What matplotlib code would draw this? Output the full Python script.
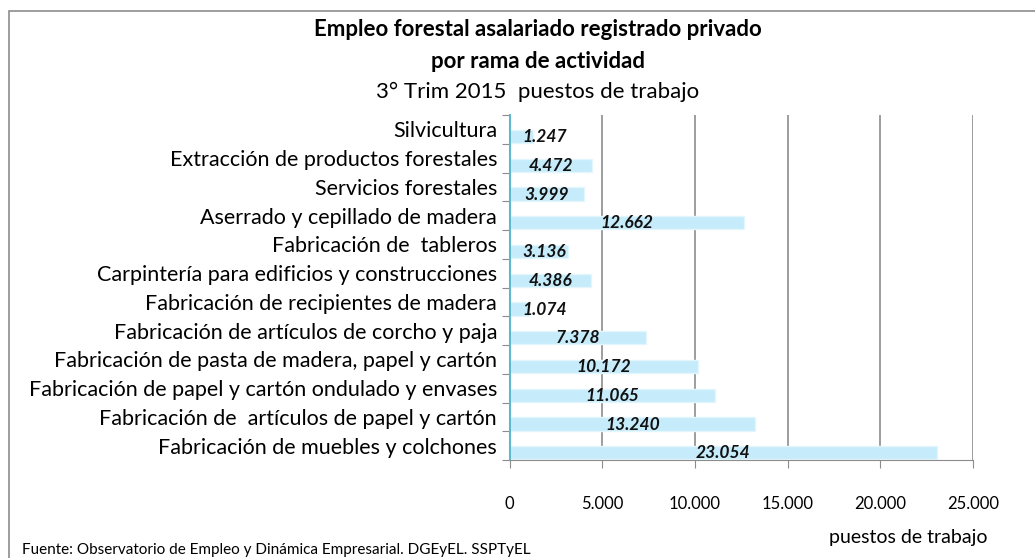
import numpy as np
import matplotlib.pyplot as plt
from matplotlib.patches import Rectangle

plt.rcParams['font.family'] = ['Lato', 'DejaVu Sans']

# data, top to bottom as in the chart
ramas = [
    "Silvicultura",
    "Extracción de productos forestales",
    "Servicios forestales",
    "Aserrado y cepillado de madera",
    "Fabricación de  tableros",
    "Carpintería para edificios y construcciones",
    "Fabricación de recipientes de madera",
    "Fabricación de artículos de corcho y paja",
    "Fabricación de pasta de madera, papel y cartón",
    "Fabricación de papel y cartón ondulado y envases",
    "Fabricación de  artículos de papel y cartón",
    "Fabricación de muebles y colchones",
]
puestos = [1247, 4472, 3999, 12662, 3136, 4386, 1074, 7378, 10172, 11065, 13240, 23054]
xticks = [0, 5000, 10000, 15000, 20000, 25000]


def miles(v):
    return f"{v:,}".replace(",", ".")


W, H = 1035, 558
fig = plt.figure(figsize=(W / 100, H / 100), dpi=100)

# outer chart frame (runs off the right / bottom edge like the original)
fig.add_artist(Rectangle((9 / W, -0.1), 1.2, 1 - 11 / H + 0.1, transform=fig.transFigure,
                         fill=False, edgecolor='#8c8c8c', linewidth=1.2))

ax = fig.add_axes([509.5 / W, 1 - 460 / H, 463.5 / W, 345 / H])

y = np.arange(len(ramas))
ax.barh(y + 0.25, puestos, height=0.46, color='#c6ebfa', edgecolor='#e3f6fd', linewidth=1, zorder=2)

for yi, v in zip(y, puestos):
    ax.text(max(v / 2, 1900), yi + 0.27, miles(v), ha='center', va='center',
            fontsize=12.5, fontweight='bold', fontstyle='italic', color='#111111', zorder=3)

ax.set_xlim(0, 25000)
ax.set_ylim(len(ramas) - 0.5, -0.5)

ax.set_xticks(xticks)
ax.set_xticklabels([miles(t) for t in xticks], fontsize=12)
ax.tick_params(axis='x', length=6, color='#8c8c8c', pad=20, direction='out')

# ticks between categories, labels centered on each slot
ax.set_yticks(np.arange(len(ramas) + 1) - 0.5)
ax.set_yticklabels([])
ax.set_yticks(y, minor=True)
ax.set_yticklabels(ramas, minor=True, fontsize=15.5)
ax.tick_params(axis='y', which='major', length=6, color='#8c8c8c')
ax.tick_params(axis='y', which='minor', length=0, pad=9)

ax.grid(axis='x', color='#8c8c8c', linewidth=1.2, zorder=0)
ax.set_axisbelow(True)
for s in ['top', 'right']:
    ax.spines[s].set_visible(False)
ax.spines['bottom'].set_color('#8c8c8c')
ax.spines['left'].set_color('#5fb8cf')
ax.spines['left'].set_linewidth(1.5)

fig.text(538 / W, 1 - 30 / H, "Empleo forestal asalariado registrado privado",
         ha='center', va='center', fontsize=16, fontweight='bold')
fig.text(538 / W, 1 - 61 / H, "por rama de actividad",
         ha='center', va='center', fontsize=16, fontweight='bold')
fig.text(538 / W, 1 - 92 / H, "3° Trim 2015  puestos de trabajo",
         ha='center', va='center', fontsize=16)

fig.text(908 / W, 1 - 537 / H, "puestos de trabajo", ha='center', va='center', fontsize=14)
fig.text(22 / W, 1 / H, "Fuente: Observatorio de Empleo y Dinámica Empresarial. DGEyEL. SSPTyEL",
         ha='left', va='bottom', fontsize=11)

fig.savefig('out.png', dpi=100)
